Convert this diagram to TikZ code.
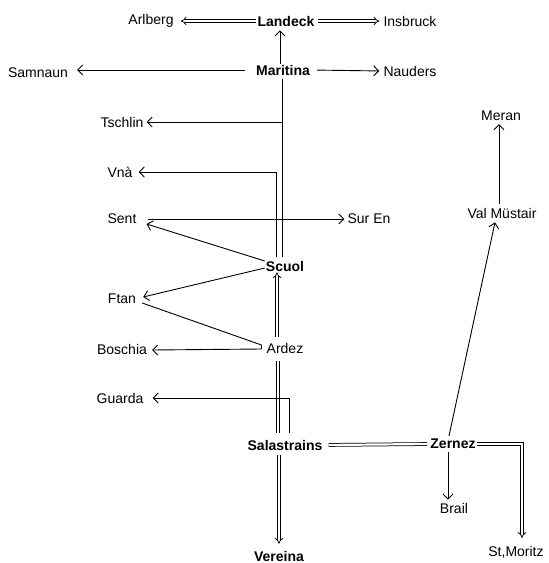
\documentclass[tikz,border=0pt]{standalone}
\usepackage{fontspec}
\setmainfont{Liberation Sans}
\usetikzlibrary{arrows.meta,calc}
\begin{document}
\begin{tikzpicture}[x=1pt,y=-1pt,
  lbl/.style={inner sep=1pt,font=\fontsize{14}{16}\selectfont},
  bl/.style={inner sep=1pt,font=\fontsize{14}{16}\selectfont\bfseries},
  sar/.style={draw,line width=0.9pt,-{Straight Barb[length=5pt,width=10pt]}},
  ln/.style={draw,line width=0.9pt},
  thin2/.style={draw,line width=0.8pt},
  dbl/.style={draw,double,double distance=2.2pt,line width=0.75pt},
  dar/.style={dbl,-{Implies[length=6pt,width=11pt]}}]
\useasboundingbox (0,0) rectangle (549,563);
% nodes
\node[bl]  (Lan) at (286,21)  {Landeck};
\node[lbl] (Arl) at (151,21)  {Arlberg};
\node[lbl] (Ins) at (410,21)  {Insbruck};
\node[bl]  (Mar) at (283,70)  {Maritina};
\node[lbl] (Sam) at (38,73)   {Samnaun};
\node[lbl] (Nau) at (410,71)  {Nauders};
\node[lbl] (Tsc) at (122,122) {Tschlin};
\node[lbl] (Vna) at (120,172) {Vnà};
\node[lbl] (Sen) at (122,219) {Sent};
\node[lbl] (Sur) at (369,219) {Sur En};
\node[bl]  (Scu) at (285,266) {Scuol};
\node[lbl] (Fta) at (122,299) {Ftan};
\node[lbl] (Ard) at (285,348) {Ardez};
\node[lbl] (Bos) at (122,349) {Boschia};
\node[lbl] (Gua) at (120,398) {Guarda};
\node[bl]  (Sal) at (285,445) {Salastrains};
\node[bl]  (Ver) at (279,556) {Vereina};
\node[bl]  (Zer) at (453,444) {Zernez};
\node[lbl] (Bra) at (454,508) {Brail};
\node[lbl] (Stm) at (516,552) {St,Moritz};
\node[lbl] (Val) at (502,213) {Val Müstair};
\node[lbl] (Mer) at (501,116) {Meran};
% helper coordinates
\coordinate (mu) at ($(Mar.north)+(-3,0)$);
\coordinate (md) at ($(Mar.south)+(-1,3)$);
\coordinate (vn) at ($(Scu.north)+(-9,-3)$);
\coordinate (sc) at ($(Scu.north)+(-3,-3)$);
\coordinate (aw) at ($(Ard.west)+(-4,-3)$);
\coordinate (sg) at ($(Sal.north)+(4,-6)$);
% connectors
\draw[dar,shorten >=6pt] (Lan.west) -- (Arl.east);
\draw[dar,shorten <=2pt,shorten >=3pt] (Lan.east) -- (Ins.west);
\draw[sar,shorten >=3pt] (mu) -- (mu |- Lan.south);
\draw[sar,shorten <=10pt,shorten >=8pt] (Mar.west) -- (Mar.west -| Sam.east);
\draw[sar,shorten <=6pt,shorten >=3pt] (Mar.east) -- (Nau.west);
\draw[ln] (md) -- (md |- sc);
\draw[sar,shorten >=2pt] (md |- Tsc.east) -- (Tsc.east);
\draw[sar,shorten >=5pt] (vn) |- (Vna.east);
\draw[sar,shorten <=10pt,shorten >=2pt] (Sen.east) -- (Sur.west);
\draw[sar] ($(Scu.west)+(0,-5)$) -- ($(Sen.east)+(9,5)$);
\draw[sar] ($(Scu.west)+(0,2)$) -- ($(Fta.east)+(6,-2)$);
\draw[ln] ($(Fta.east)+(5,4)$) -- (aw);
\draw[sar] (aw) -- ($(Ard.west)+(-4,1)$) -- ($(Bos.east)+(4,1)$);
\draw[dar,shorten <=5pt] ($(Ard.north)+(-8,0)$) -- ($(Scu.south)+(-8,0)$);
\draw[thin2] ($(Sal.north)+(-9,-6)$) -- ($(Ard.south)+(-9,7)$);
\draw[thin2] ($(Sal.north)+(-6,-6)$) -- ($(Ard.south)+(-6,7)$);
\draw[sar] (sg) |- ($(Gua.east)+(8,0)$);
\draw[dar,shorten >=3pt] ($(Sal.south)+(-6,4)$) -- ($(Ver.north)+(0,-3)$);
\draw[dbl,shorten <=5pt,shorten >=2pt] (Sal.east) -- (Zer.west);
\draw[dar,shorten >=7pt] (Zer.east) -| ($(Stm.north)+(6,0)$);
\draw[sar,shorten <=2pt] ($(Zer.south)+(-5,0)$) -- ($(Bra.north)+(-6,-2)$);
\draw[sar] ($(Zer.north)+(-4,-2)$) -- ($(Val.south)+(-7,3)$);
\draw[sar] ($(Val.north)+(-3,-3)$) -- ($(Mer.south)+(-2,2)$);
\end{tikzpicture}
\end{document}
